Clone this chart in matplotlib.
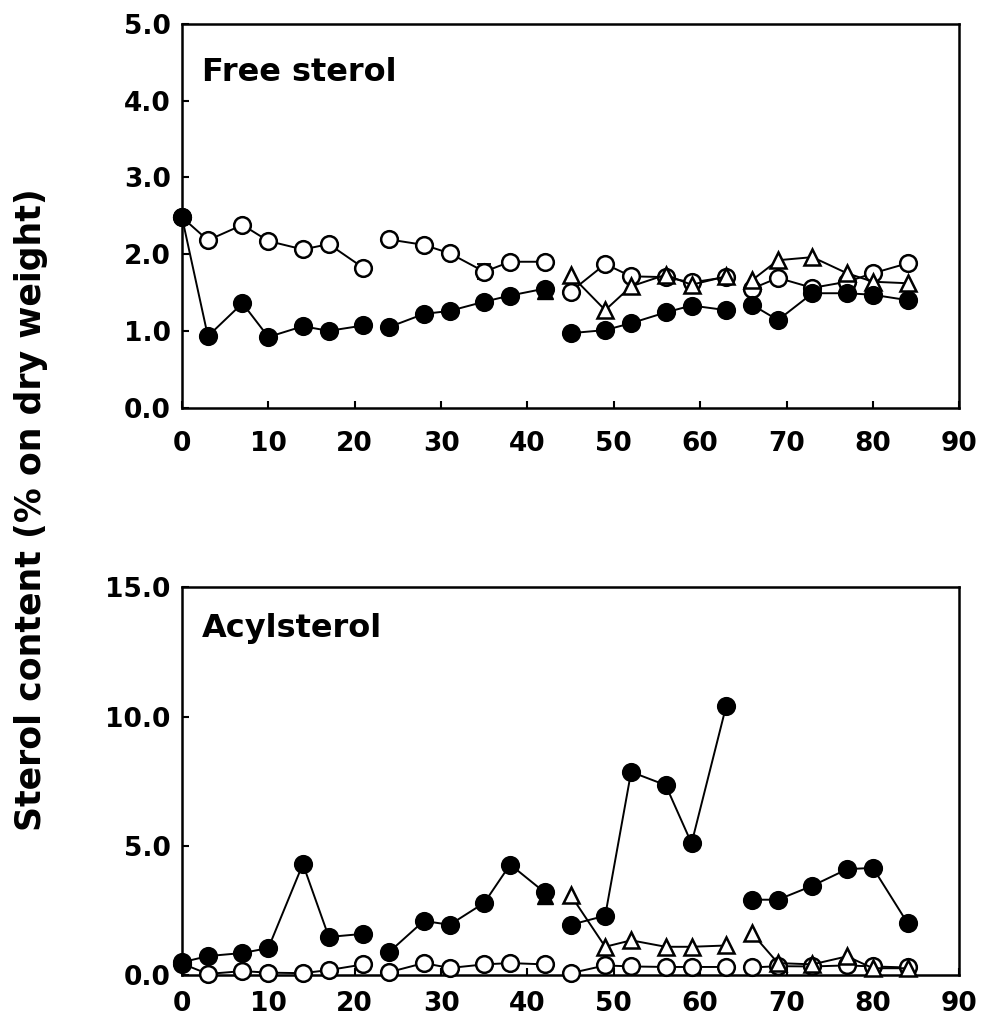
import numpy as np
import matplotlib.pyplot as plt

plt.rcParams['font.family'] = ['DejaVu Sans']
plt.rcParams['font.weight'] = 'bold'

# sampling days (four runs, lines are broken between runs)
days = [0, 3, 7, 10, 14, 17, 21,
        24, 28, 31, 35, 38, 42,
        45, 49, 52, 56, 59, 63,
        66, 69, 73, 77, 80, 84]
runs = [(0, 7), (7, 13), (13, 19), (19, 25)]

# free sterol (% on dry weight)
free_filled = [2.48, 0.93, 1.36, 0.92, 1.06, 1.00, 1.07,
               1.05, 1.22, 1.26, 1.38, 1.46, 1.55,
               0.97, 1.01, 1.10, 1.24, 1.33, 1.27,
               1.34, 1.14, 1.49, 1.49, 1.47, 1.40]
free_open = [2.48, 2.18, 2.38, 2.17, 2.06, 2.13, 1.82,
             2.19, 2.12, 2.01, 1.77, 1.90, 1.90,
             1.51, 1.87, 1.71, 1.70, 1.63, 1.70,
             1.55, 1.69, 1.56, 1.64, 1.75, 1.88]
free_tri = [None] * 13 + [1.73, 1.27, 1.58, 1.73, 1.60, 1.71,
                          1.66, 1.92, 1.96, 1.75, 1.64, 1.62]
free_tri_start = 1.52
free_err_day, free_err_val, free_err = 35, 1.77, 0.1

# acylsterol (% on dry weight)
acyl_filled = [0.50, 0.74, 0.86, 1.05, 4.30, 1.48, 1.60,
               0.90, 2.10, 1.95, 2.80, 4.28, 3.20,
               1.95, 2.30, 7.86, 7.35, 5.10, 10.40,
               2.92, 2.92, 3.46, 4.10, 4.15, 2.02]
acyl_open = [0.45, 0.05, 0.16, 0.10, 0.08, 0.20, 0.42,
             0.12, 0.47, 0.28, 0.42, 0.47, 0.42,
             0.08, 0.38, 0.34, 0.32, 0.32, 0.32,
             0.30, 0.35, 0.34, 0.38, 0.34, 0.30]
acyl_tri = [None] * 13 + [3.10, 1.10, 1.35, 1.10, 1.10, 1.15,
                          1.62, 0.47, 0.42, 0.73, 0.27, 0.27]
acyl_tri_start = 3.05


def draw_series(ax, vals, marker, face, z):
    for a, b in runs:
        xs = [days[i] for i in range(a, b) if vals[i] is not None]
        ys = [vals[i] for i in range(a, b) if vals[i] is not None]
        if not xs:
            continue
        ax.plot(xs, ys, color='black', lw=1.4, marker=marker, ms=12,
                mfc=face, mec='black', mew=1.8, zorder=z, clip_on=False)


def draw_panel(ax, filled, opened, tri, tri_start, ymax, yticks, title, ty, xpad):
    # open circles and triangles share the first point with the control
    draw_series(ax, opened, 'o', 'white', 3)
    draw_series(ax, tri, '^', 'white', 4)
    ax.plot([days[12]], [tri_start], marker='^', ms=12, color='black', zorder=4.5)
    draw_series(ax, filled, 'o', 'black', 5)

    ax.set_xlim(0, 90)
    ax.set_ylim(0, ymax)
    ax.set_yticks(yticks)
    ax.set_yticklabels(['%.1f' % t for t in yticks])
    ax.set_xticks(range(0, 100, 10))
    ax.tick_params(direction='in', length=5, width=1.5, labelsize=19, pad=8)
    ax.tick_params(axis='x', pad=xpad)
    for s in ax.spines.values():
        s.set_linewidth(1.8)
    ax.text(0.026, ty, title, transform=ax.transAxes, fontsize=23,
            fontweight='bold', va='center', ha='left')


fig = plt.figure(figsize=(9.89, 10.32), dpi=100)
ax1 = fig.add_axes([0.184, 0.605, 0.786, 0.372])
ax2 = fig.add_axes([0.184, 0.055, 0.786, 0.376])

draw_panel(ax1, free_filled, free_open, free_tri, free_tri_start, 5.0,
           [0, 1, 2, 3, 4, 5], 'Free sterol', 0.872, 17)
ax1.errorbar([free_err_day], [free_err_val], yerr=[free_err], fmt='none',
             ecolor='black', elinewidth=1.3, capsize=5, capthick=1.3, zorder=2)

draw_panel(ax2, acyl_filled, acyl_open, acyl_tri, acyl_tri_start, 15.0,
           [0, 5, 10, 15], 'Acylsterol', 0.894, 11)

fig.text(0.031, 0.506, 'Sterol content (% on dry weight)', rotation=90,
         fontsize=25, fontweight='bold', ha='center', va='center')

fig.savefig('out.png', dpi=100)
